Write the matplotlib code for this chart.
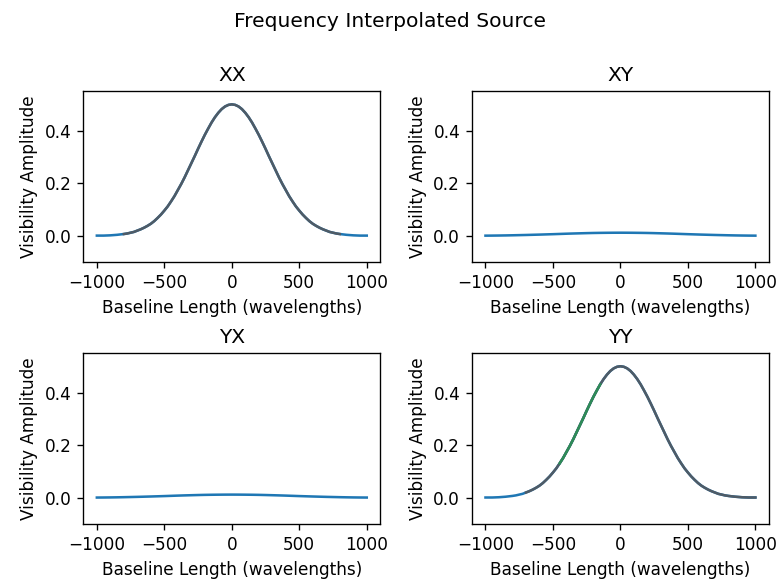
import numpy as np
import matplotlib
matplotlib.use("Agg")
import matplotlib.pyplot as plt

# baseline length (wavelengths)
baseline_co = np.arange(-1000, 1001, 25)
baseline_cross = np.arange(-1000, 1001, 50)

# visibility amplitudes (symmetric about 0), from 0 outwards
half_co = [0.500, 0.498, 0.492, 0.482, 0.468, 0.451, 0.431, 0.408, 0.384, 0.358,
           0.331, 0.303, 0.276, 0.249, 0.222, 0.197, 0.174, 0.151, 0.131, 0.112,
           0.096, 0.081, 0.068, 0.056, 0.046, 0.038, 0.031, 0.025, 0.020, 0.015,
           0.012, 0.009, 0.007, 0.0055, 0.004, 0.003, 0.002, 0.0015, 0.001, 0.001, 0.001]
half_cross = [0.0120, 0.0119, 0.0117, 0.0114, 0.0110, 0.0104, 0.0097, 0.0090, 0.0082, 0.0073,
              0.0064, 0.0056, 0.0048, 0.0041, 0.0034, 0.0028, 0.0022, 0.0017, 0.0013, 0.0010, 0.0008]

amp_xx = np.array(half_co[::-1] + half_co[1:])
amp_yy = amp_xx.copy()
amp_xy = np.array(half_cross[::-1] + half_cross[1:])
amp_yx = amp_xy.copy()

panels = [("XX", baseline_co, amp_xx), ("XY", baseline_cross, amp_xy),
          ("YX", baseline_cross, amp_yx), ("YY", baseline_co, amp_yy)]

dpi = 121.72
fig, axes = plt.subplots(2, 2, figsize=(779 / dpi, 581 / dpi), dpi=dpi)
fig.subplots_adjust(left=0.107, right=0.987, top=0.843, bottom=0.098,
                    wspace=0.309, hspace=0.532)
fig.suptitle("Frequency Interpolated Source", y=0.98)

for ax, (name, x, amp) in zip(axes.flat, panels):
    ax.plot(x, amp, color="C0", lw=1.5)
    # overlapping frequency channels show up darker in the middle
    if name == "XX":
        m = np.abs(x) <= 800
        ax.plot(x[m], amp[m], color="#4f5b66", lw=1.5)
    elif name == "YY":
        m = x >= -700
        ax.plot(x[m], amp[m], color="#4f5b66", lw=1.5)
        g = (x >= -450) & (x <= -150)
        ax.plot(x[g], amp[g], color="#2e8b57", lw=1.5)
    ax.set_ylim(-0.1, 0.55)
    ax.set_yticks([0.0, 0.2, 0.4])
    ax.set_xticks([-1000, -500, 0, 500, 1000])
    ax.set_title(name)
    ax.set_xlabel("Baseline Length (wavelengths)")
    ax.set_ylabel("Visibility Amplitude")

plt.savefig("out.png", dpi=dpi)
